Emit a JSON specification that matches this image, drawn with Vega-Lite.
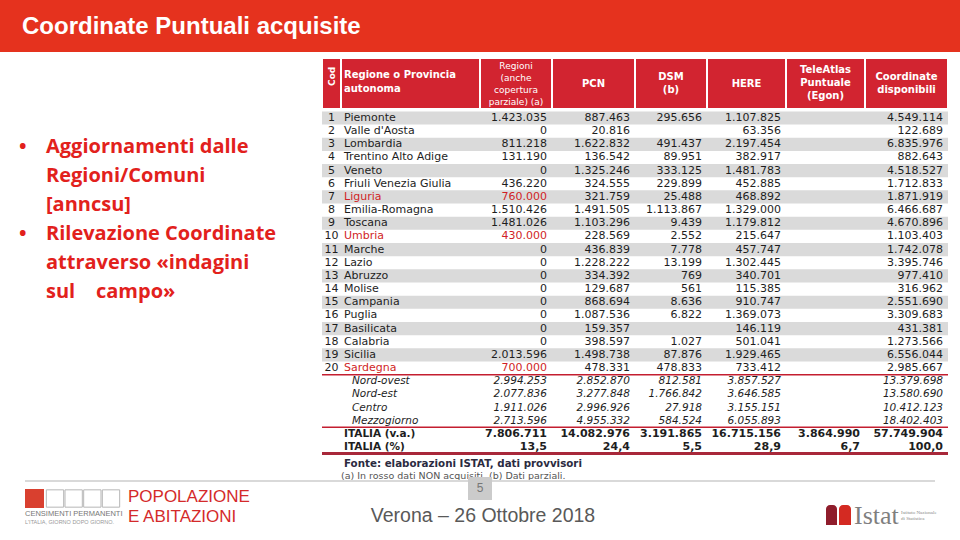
{
  "$schema": "https://vega.github.io/schema/vega-lite/v6.json",
  "width": 960,
  "height": 540,
  "padding": 0,
  "autosize": {"type": "none"},
  "background": "white",
  "config": {
    "view": {"stroke": null},
    "locale": {"number": {"decimal": ",", "thousands": ".", "grouping": [3], "currency": ["€", ""]}}
  },
  "datasets": {
    "rows": [
      {"r": 1, "kind": "region", "name": "Piemonte", "reg": 1423035, "pcn": 887463, "dsm": 295656, "here": 1107825, "coord": 4549114},
      {"r": 2, "kind": "region", "name": "Valle d'Aosta", "reg": 0, "pcn": 20816, "here": 63356, "coord": 122689},
      {"r": 3, "kind": "region", "name": "Lombardia", "reg": 811218, "pcn": 1622832, "dsm": 491437, "here": 2197454, "coord": 6835976},
      {"r": 4, "kind": "region", "name": "Trentino Alto Adige", "reg": 131190, "pcn": 136542, "dsm": 89951, "here": 382917, "coord": 882643},
      {"r": 5, "kind": "region", "name": "Veneto", "reg": 0, "pcn": 1325246, "dsm": 333125, "here": 1481783, "coord": 4518527},
      {"r": 6, "kind": "region", "name": "Friuli Venezia Giulia", "reg": 436220, "pcn": 324555, "dsm": 229899, "here": 452885, "coord": 1712833},
      {"r": 7, "kind": "region", "name": "Liguria", "nonacq": true, "reg": 760000, "pcn": 321759, "dsm": 25488, "here": 468892, "coord": 1871919},
      {"r": 8, "kind": "region", "name": "Emilia-Romagna", "reg": 1510426, "pcn": 1491505, "dsm": 1113867, "here": 1329000, "coord": 6466687},
      {"r": 9, "kind": "region", "name": "Toscana", "reg": 1481026, "pcn": 1103296, "dsm": 9439, "here": 1179812, "coord": 4670896},
      {"r": 10, "kind": "region", "name": "Umbria", "nonacq": true, "reg": 430000, "pcn": 228569, "dsm": 2552, "here": 215647, "coord": 1103403},
      {"r": 11, "kind": "region", "name": "Marche", "reg": 0, "pcn": 436839, "dsm": 7778, "here": 457747, "coord": 1742078},
      {"r": 12, "kind": "region", "name": "Lazio", "reg": 0, "pcn": 1228222, "dsm": 13199, "here": 1302445, "coord": 3395746},
      {"r": 13, "kind": "region", "name": "Abruzzo", "reg": 0, "pcn": 334392, "dsm": 769, "here": 340701, "coord": 977410},
      {"r": 14, "kind": "region", "name": "Molise", "reg": 0, "pcn": 129687, "dsm": 561, "here": 115385, "coord": 316962},
      {"r": 15, "kind": "region", "name": "Campania", "reg": 0, "pcn": 868694, "dsm": 8636, "here": 910747, "coord": 2551690},
      {"r": 16, "kind": "region", "name": "Puglia", "reg": 0, "pcn": 1087536, "dsm": 6822, "here": 1369073, "coord": 3309683},
      {"r": 17, "kind": "region", "name": "Basilicata", "reg": 0, "pcn": 159357, "here": 146119, "coord": 431381},
      {"r": 18, "kind": "region", "name": "Calabria", "reg": 0, "pcn": 398597, "dsm": 1027, "here": 501041, "coord": 1273566},
      {"r": 19, "kind": "region", "name": "Sicilia", "reg": 2013596, "pcn": 1498738, "dsm": 87876, "here": 1929465, "coord": 6556044},
      {"r": 20, "kind": "region", "name": "Sardegna", "nonacq": true, "reg": 700000, "pcn": 478331, "dsm": 478833, "here": 733412, "coord": 2985667},
      {"r": 21, "kind": "macro", "name": "Nord-ovest", "reg": 2994253, "pcn": 2852870, "dsm": 812581, "here": 3857527, "coord": 13379698},
      {"r": 22, "kind": "macro", "name": "Nord-est", "reg": 2077836, "pcn": 3277848, "dsm": 1766842, "here": 3646585, "coord": 13580690},
      {"r": 23, "kind": "macro", "name": "Centro", "reg": 1911026, "pcn": 2996926, "dsm": 27918, "here": 3155151, "coord": 10412123},
      {"r": 24, "kind": "macro", "name": "Mezzogiorno", "reg": 2713596, "pcn": 4955332, "dsm": 584524, "here": 6055893, "coord": 18402403},
      {"r": 25, "kind": "total", "name": "ITALIA (v.a.)", "reg": 7806711, "pcn": 14082976, "dsm": 3191865, "here": 16715156, "tele": 3864990, "coord": 57749904},
      {"r": 26, "kind": "pct", "name": "ITALIA (%)", "reg": 13.5, "pcn": 24.4, "dsm": 5.5, "here": 28.9, "tele": 6.7, "coord": 100.0}
    ],
    "cols": [
      {"key": "cod", "start": 0, "end": 1, "label": ["Cod"]},
      {"key": "name", "start": 1, "end": 2, "label": ["Regione o Provincia", "autonoma"]},
      {"key": "reg", "start": 2, "end": 3, "label": ["Regioni", "(anche", "copertura", "parziale) (a)"]},
      {"key": "pcn", "start": 3, "end": 4, "label": ["PCN"]},
      {"key": "dsm", "start": 4, "end": 5, "label": ["DSM", "(b)"]},
      {"key": "here", "start": 5, "end": 6, "label": ["HERE"]},
      {"key": "tele", "start": 6, "end": 7, "label": ["TeleAtlas", "Puntuale", "(Egon)"]},
      {"key": "coord", "start": 7, "end": 8, "label": ["Coordinate", "disponibili"]}
    ],
    "bullets": [
      {"line": 1, "bullet": true, "text": "Aggiornamenti dalle"},
      {"line": 2, "bullet": false, "text": "Regioni/Comuni"},
      {"line": 3, "bullet": false, "text": "[anncsu]"},
      {"line": 4, "bullet": true, "text": "Rilevazione Coordinate"},
      {"line": 5, "bullet": false, "text": "attraverso «indagini"},
      {"line": 6, "bullet": false, "text": "sul\u00a0\u00a0\u00a0\u00a0campo»"}
    ]
  },
  "resolve": {"scale": {"x": "independent", "y": "independent", "color": "independent"}},
  "layer": [
    {
      "data": {"values": [{}]},
      "mark": {"type": "rect", "color": "#e5321e"},
      "encoding": {
        "x": {"datum": 0, "type": "quantitative", "scale": {"domain": [0, 960], "range": [0, 960], "zero": false, "nice": false}, "axis": null},
        "x2": {"datum": 960},
        "y": {"datum": 0, "type": "quantitative", "scale": {"domain": [0, 540], "range": [0, 540], "zero": false, "nice": false}, "axis": null},
        "y2": {"datum": 52}
      }
    },
    {
      "data": {"values": [{"t": "Coordinate Puntuali acquisite"}]},
      "mark": {"type": "text", "align": "left", "baseline": "middle", "font": "Liberation Sans", "fontSize": 24, "fontWeight": "bold", "color": "white"},
      "encoding": {
        "x": {"datum": 22, "type": "quantitative", "scale": {"domain": [0, 960], "range": [0, 960], "zero": false, "nice": false}, "axis": null},
        "y": {"datum": 27, "type": "quantitative", "scale": {"domain": [0, 540], "range": [0, 540], "zero": false, "nice": false}, "axis": null},
        "text": {"field": "t"}
      }
    },
    {
      "data": {"name": "bullets"},
      "mark": {"type": "text", "align": "left", "baseline": "middle", "font": "Open Sans", "fontSize": 20, "fontWeight": "bold", "color": "#e2211c"},
      "encoding": {
        "x": {"datum": 46, "type": "quantitative", "scale": {"domain": [0, 960], "range": [0, 960], "zero": false, "nice": false}, "axis": null},
        "y": {"field": "line", "type": "quantitative", "scale": {"domain": [1, 6], "range": [147, 292], "zero": false, "nice": false}, "axis": null},
        "text": {"field": "text"}
      }
    },
    {
      "data": {"name": "bullets"},
      "transform": [{"filter": "datum.bullet"}],
      "mark": {"type": "text", "align": "left", "baseline": "middle", "font": "Open Sans", "fontSize": 20, "fontWeight": "bold", "color": "#e2211c", "text": "•"},
      "encoding": {
        "x": {"datum": 19, "type": "quantitative", "scale": {"domain": [0, 960], "range": [0, 960], "zero": false, "nice": false}, "axis": null},
        "y": {"field": "line", "type": "quantitative", "scale": {"domain": [1, 6], "range": [147, 292], "zero": false, "nice": false}, "axis": null}
      }
    },
    {
      "data": {"name": "cols"},
      "mark": {"type": "rect", "color": "#d22430", "stroke": "white", "strokeWidth": 2},
      "encoding": {
        "x": {"field": "start", "type": "quantitative", "scale": {"domain": [0, 1, 2, 3, 4, 5, 6, 7, 8], "range": [322, 341, 480, 552, 635, 707, 786, 865, 948], "zero": false, "nice": false}, "axis": null},
        "x2": {"field": "end"},
        "y": {"datum": 0, "type": "quantitative", "scale": {"domain": [0, 1], "range": [58, 109], "zero": false, "nice": false}, "axis": null},
        "y2": {"datum": 1}
      }
    },
    {
      "data": {"name": "cols"},
      "transform": [{"filter": "datum.start >= 3 && datum.label.length === 1"}],
      "mark": {"type": "text", "align": "center", "baseline": "middle", "font": "DejaVu Sans", "fontSize": 10, "fontWeight": "bold", "color": "white"},
      "encoding": {
        "x": {"field": "start", "type": "quantitative", "scale": {"domain": [2, 3, 4, 5, 6, 7], "range": [516, 593.5, 671, 746.5, 825.5, 906.5], "zero": false, "nice": false}, "axis": null},
        "y": {"datum": 0.5, "type": "quantitative", "scale": {"domain": [0, 1], "range": [58, 109], "zero": false, "nice": false}, "axis": null},
        "text": {"field": "label"}
      }
    },
    {
      "data": {"name": "cols"},
      "transform": [{"filter": "datum.start >= 3 && datum.label.length === 2"}],
      "mark": {"type": "text", "align": "center", "baseline": "middle", "font": "DejaVu Sans", "fontSize": 10, "fontWeight": "bold", "color": "white", "lineHeight": 13},
      "encoding": {
        "x": {"field": "start", "type": "quantitative", "scale": {"domain": [2, 3, 4, 5, 6, 7], "range": [516, 593.5, 671, 746.5, 825.5, 906.5], "zero": false, "nice": false}, "axis": null},
        "y": {"datum": 0.37, "type": "quantitative", "scale": {"domain": [0, 1], "range": [58, 109], "zero": false, "nice": false}, "axis": null},
        "text": {"field": "label"}
      }
    },
    {
      "data": {"name": "cols"},
      "transform": [{"filter": "datum.start >= 3 && datum.label.length === 3"}],
      "mark": {"type": "text", "align": "center", "baseline": "middle", "font": "DejaVu Sans", "fontSize": 10, "fontWeight": "bold", "color": "white", "lineHeight": 13},
      "encoding": {
        "x": {"field": "start", "type": "quantitative", "scale": {"domain": [2, 3, 4, 5, 6, 7], "range": [516, 593.5, 671, 746.5, 825.5, 906.5], "zero": false, "nice": false}, "axis": null},
        "y": {"datum": 0.245, "type": "quantitative", "scale": {"domain": [0, 1], "range": [58, 109], "zero": false, "nice": false}, "axis": null},
        "text": {"field": "label"}
      }
    },
    {
      "data": {"name": "cols"},
      "transform": [{"filter": "datum.key === 'reg'"}],
      "mark": {"type": "text", "align": "center", "baseline": "middle", "font": "DejaVu Sans", "fontSize": 9, "color": "white", "lineHeight": 12},
      "encoding": {
        "x": {"field": "start", "type": "quantitative", "scale": {"domain": [2, 3, 4, 5, 6, 7], "range": [516, 593.5, 671, 746.5, 825.5, 906.5], "zero": false, "nice": false}, "axis": null},
        "y": {"datum": 0.15, "type": "quantitative", "scale": {"domain": [0, 1], "range": [58, 109], "zero": false, "nice": false}, "axis": null},
        "text": {"field": "label"}
      }
    },
    {
      "data": {"name": "cols"},
      "transform": [{"filter": "datum.key === 'name'"}],
      "mark": {"type": "text", "align": "left", "baseline": "middle", "font": "DejaVu Sans", "fontSize": 10, "fontWeight": "bold", "color": "white", "lineHeight": 14, "dx": 3},
      "encoding": {
        "x": {"field": "start", "type": "quantitative", "scale": {"domain": [0, 1, 2, 3, 4, 5, 6, 7, 8], "range": [322, 341, 480, 552, 635, 707, 786, 865, 948], "zero": false, "nice": false}, "axis": null},
        "y": {"datum": 0.34, "type": "quantitative", "scale": {"domain": [0, 1], "range": [58, 109], "zero": false, "nice": false}, "axis": null},
        "text": {"field": "label"}
      }
    },
    {
      "data": {"name": "cols"},
      "transform": [{"filter": "datum.key === 'cod'"}],
      "mark": {"type": "text", "align": "center", "baseline": "middle", "font": "DejaVu Sans", "fontSize": 9, "fontWeight": "bold", "color": "white", "angle": 270},
      "encoding": {
        "x": {"datum": 0.5, "type": "quantitative", "scale": {"domain": [0, 1, 2, 3, 4, 5, 6, 7, 8], "range": [322, 341, 480, 552, 635, 707, 786, 865, 948], "zero": false, "nice": false}, "axis": null},
        "y": {"datum": 0.36, "type": "quantitative", "scale": {"domain": [0, 1], "range": [58, 109], "zero": false, "nice": false}, "axis": null},
        "text": {"field": "label"}
      }
    },
    {
      "data": {"name": "rows"},
      "transform": [{"filter": "datum.kind === 'region' && datum.r % 2 === 1"}],
      "mark": {"type": "rect", "color": "#dadada"},
      "encoding": {
        "x": {"datum": 0, "type": "quantitative", "scale": {"domain": [0, 1, 2, 3, 4, 5, 6, 7, 8], "range": [322, 341, 480, 552, 635, 707, 786, 865, 948], "zero": false, "nice": false}, "axis": null},
        "x2": {"datum": 8},
        "y": {"field": "r", "type": "ordinal", "scale": {"type": "band", "domain": [1, 2, 3, 4, 5, 6, 7, 8, 9, 10, 11, 12, 13, 14, 15, 16, 17, 18, 19, 20, 21, 22, 23, 24, 25, 26], "range": [111.4, 453.6], "paddingInner": 0, "paddingOuter": 0}, "axis": null}
      }
    },
    {
      "data": {"name": "rows"},
      "transform": [{"filter": "datum.kind === 'region'"}],
      "mark": {"type": "text", "align": "center", "baseline": "middle", "font": "DejaVu Sans", "fontSize": 11, "color": "#1e1e1e"},
      "encoding": {
        "x": {"datum": 0.5, "type": "quantitative", "scale": {"domain": [0, 1, 2, 3, 4, 5, 6, 7, 8], "range": [322, 341, 480, 552, 635, 707, 786, 865, 948], "zero": false, "nice": false}, "axis": null},
        "y": {"field": "r", "type": "ordinal", "scale": {"type": "band", "domain": [1, 2, 3, 4, 5, 6, 7, 8, 9, 10, 11, 12, 13, 14, 15, 16, 17, 18, 19, 20, 21, 22, 23, 24, 25, 26], "range": [111.4, 453.6], "paddingInner": 0, "paddingOuter": 0}, "axis": null},
        "text": {"field": "r", "type": "nominal"}
      }
    },
    {
      "data": {"name": "rows"},
      "transform": [{"filter": "datum.kind === 'region'"}],
      "mark": {"type": "text", "align": "left", "baseline": "middle", "font": "DejaVu Sans", "fontSize": 11, "dx": 3},
      "encoding": {
        "x": {"datum": 1, "type": "quantitative", "scale": {"domain": [0, 1, 2, 3, 4, 5, 6, 7, 8], "range": [322, 341, 480, 552, 635, 707, 786, 865, 948], "zero": false, "nice": false}, "axis": null},
        "y": {"field": "r", "type": "ordinal", "scale": {"type": "band", "domain": [1, 2, 3, 4, 5, 6, 7, 8, 9, 10, 11, 12, 13, 14, 15, 16, 17, 18, 19, 20, 21, 22, 23, 24, 25, 26], "range": [111.4, 453.6], "paddingInner": 0, "paddingOuter": 0}, "axis": null},
        "text": {"field": "name"},
        "color": {"condition": {"test": "datum.nonacq === true", "value": "#d11f26"}, "value": "#1e1e1e"}
      }
    },
    {
      "data": {"name": "rows"},
      "transform": [{"filter": "datum.kind === 'macro'"}],
      "mark": {"type": "text", "align": "left", "baseline": "middle", "font": "DejaVu Sans", "fontSize": 10.5, "fontStyle": "italic", "color": "#1e1e1e", "dx": 11},
      "encoding": {
        "x": {"datum": 1, "type": "quantitative", "scale": {"domain": [0, 1, 2, 3, 4, 5, 6, 7, 8], "range": [322, 341, 480, 552, 635, 707, 786, 865, 948], "zero": false, "nice": false}, "axis": null},
        "y": {"field": "r", "type": "ordinal", "scale": {"type": "band", "domain": [1, 2, 3, 4, 5, 6, 7, 8, 9, 10, 11, 12, 13, 14, 15, 16, 17, 18, 19, 20, 21, 22, 23, 24, 25, 26], "range": [111.4, 453.6], "paddingInner": 0, "paddingOuter": 0}, "axis": null},
        "text": {"field": "name"}
      }
    },
    {
      "data": {"name": "rows"},
      "transform": [{"filter": "datum.kind === 'total' || datum.kind === 'pct'"}],
      "mark": {"type": "text", "align": "left", "baseline": "middle", "font": "DejaVu Sans", "fontSize": 10.5, "fontWeight": "bold", "color": "#1e1e1e", "dx": 3},
      "encoding": {
        "x": {"datum": 1, "type": "quantitative", "scale": {"domain": [0, 1, 2, 3, 4, 5, 6, 7, 8], "range": [322, 341, 480, 552, 635, 707, 786, 865, 948], "zero": false, "nice": false}, "axis": null},
        "y": {"field": "r", "type": "ordinal", "scale": {"type": "band", "domain": [1, 2, 3, 4, 5, 6, 7, 8, 9, 10, 11, 12, 13, 14, 15, 16, 17, 18, 19, 20, 21, 22, 23, 24, 25, 26], "range": [111.4, 453.6], "paddingInner": 0, "paddingOuter": 0}, "axis": null},
        "text": {"field": "name"}
      }
    },
    {
      "data": {"name": "rows"},
      "transform": [
        {"filter": "datum.kind === 'region'"},
        {"fold": ["reg", "pcn", "dsm", "here", "tele", "coord"], "as": ["key", "value"]},
        {"filter": "isValid(datum.value)"},
        {"lookup": "key", "from": {"data": {"name": "cols"}, "key": "key", "fields": ["end"]}}
      ],
      "mark": {"type": "text", "align": "right", "baseline": "middle", "font": "DejaVu Sans", "fontSize": 11, "dx": -5},
      "encoding": {
        "x": {"field": "end", "type": "quantitative", "scale": {"domain": [0, 1, 2, 3, 4, 5, 6, 7, 8], "range": [322, 341, 480, 552, 635, 707, 786, 865, 948], "zero": false, "nice": false}, "axis": null},
        "y": {"field": "r", "type": "ordinal", "scale": {"type": "band", "domain": [1, 2, 3, 4, 5, 6, 7, 8, 9, 10, 11, 12, 13, 14, 15, 16, 17, 18, 19, 20, 21, 22, 23, 24, 25, 26], "range": [111.4, 453.6], "paddingInner": 0, "paddingOuter": 0}, "axis": null},
        "text": {"field": "value", "type": "quantitative", "format": ",.0f"},
        "color": {"condition": {"test": "datum.nonacq === true && datum.key === 'reg'", "value": "#d11f26"}, "value": "#1e1e1e"}
      }
    },
    {
      "data": {"name": "rows"},
      "transform": [
        {"filter": "datum.kind === 'macro'"},
        {"fold": ["reg", "pcn", "dsm", "here", "tele", "coord"], "as": ["key", "value"]},
        {"filter": "isValid(datum.value)"},
        {"lookup": "key", "from": {"data": {"name": "cols"}, "key": "key", "fields": ["end"]}}
      ],
      "mark": {"type": "text", "align": "right", "baseline": "middle", "font": "DejaVu Sans", "fontSize": 10.5, "fontStyle": "italic", "color": "#1e1e1e", "dx": -5},
      "encoding": {
        "x": {"field": "end", "type": "quantitative", "scale": {"domain": [0, 1, 2, 3, 4, 5, 6, 7, 8], "range": [322, 341, 480, 552, 635, 707, 786, 865, 948], "zero": false, "nice": false}, "axis": null},
        "y": {"field": "r", "type": "ordinal", "scale": {"type": "band", "domain": [1, 2, 3, 4, 5, 6, 7, 8, 9, 10, 11, 12, 13, 14, 15, 16, 17, 18, 19, 20, 21, 22, 23, 24, 25, 26], "range": [111.4, 453.6], "paddingInner": 0, "paddingOuter": 0}, "axis": null},
        "text": {"field": "value", "type": "quantitative", "format": ",.0f"}
      }
    },
    {
      "data": {"name": "rows"},
      "transform": [
        {"filter": "datum.kind === 'total'"},
        {"fold": ["reg", "pcn", "dsm", "here", "tele", "coord"], "as": ["key", "value"]},
        {"filter": "isValid(datum.value)"},
        {"lookup": "key", "from": {"data": {"name": "cols"}, "key": "key", "fields": ["end"]}}
      ],
      "mark": {"type": "text", "align": "right", "baseline": "middle", "font": "DejaVu Sans", "fontSize": 11, "fontWeight": "bold", "color": "#1e1e1e", "dx": -5},
      "encoding": {
        "x": {"field": "end", "type": "quantitative", "scale": {"domain": [0, 1, 2, 3, 4, 5, 6, 7, 8], "range": [322, 341, 480, 552, 635, 707, 786, 865, 948], "zero": false, "nice": false}, "axis": null},
        "y": {"field": "r", "type": "ordinal", "scale": {"type": "band", "domain": [1, 2, 3, 4, 5, 6, 7, 8, 9, 10, 11, 12, 13, 14, 15, 16, 17, 18, 19, 20, 21, 22, 23, 24, 25, 26], "range": [111.4, 453.6], "paddingInner": 0, "paddingOuter": 0}, "axis": null},
        "text": {"field": "value", "type": "quantitative", "format": ",.0f"}
      }
    },
    {
      "data": {"name": "rows"},
      "transform": [
        {"filter": "datum.kind === 'pct'"},
        {"fold": ["reg", "pcn", "dsm", "here", "tele", "coord"], "as": ["key", "value"]},
        {"filter": "isValid(datum.value)"},
        {"lookup": "key", "from": {"data": {"name": "cols"}, "key": "key", "fields": ["end"]}}
      ],
      "mark": {"type": "text", "align": "right", "baseline": "middle", "font": "DejaVu Sans", "fontSize": 11, "fontWeight": "bold", "color": "#1e1e1e", "dx": -5},
      "encoding": {
        "x": {"field": "end", "type": "quantitative", "scale": {"domain": [0, 1, 2, 3, 4, 5, 6, 7, 8], "range": [322, 341, 480, 552, 635, 707, 786, 865, 948], "zero": false, "nice": false}, "axis": null},
        "y": {"field": "r", "type": "ordinal", "scale": {"type": "band", "domain": [1, 2, 3, 4, 5, 6, 7, 8, 9, 10, 11, 12, 13, 14, 15, 16, 17, 18, 19, 20, 21, 22, 23, 24, 25, 26], "range": [111.4, 453.6], "paddingInner": 0, "paddingOuter": 0}, "axis": null},
        "text": {"field": "value", "type": "quantitative", "format": ",.1f"}
      }
    },
    {
      "data": {"values": [{"r": 21}, {"r": 25}]},
      "mark": {"type": "rule", "color": "#c41e30", "strokeWidth": 1.5},
      "encoding": {
        "x": {"datum": 0, "type": "quantitative", "scale": {"domain": [0, 1, 2, 3, 4, 5, 6, 7, 8], "range": [322, 341, 480, 552, 635, 707, 786, 865, 948], "zero": false, "nice": false}, "axis": null},
        "x2": {"datum": 8},
        "y": {"field": "r", "type": "ordinal", "bandPosition": 0, "scale": {"type": "band", "domain": [1, 2, 3, 4, 5, 6, 7, 8, 9, 10, 11, 12, 13, 14, 15, 16, 17, 18, 19, 20, 21, 22, 23, 24, 25, 26], "range": [111.4, 453.6], "paddingInner": 0, "paddingOuter": 0}, "axis": null}
      }
    },
    {
      "data": {"values": [{"r": 26}]},
      "mark": {"type": "rule", "color": "#a8283a", "strokeWidth": 3},
      "encoding": {
        "x": {"datum": 0, "type": "quantitative", "scale": {"domain": [0, 1, 2, 3, 4, 5, 6, 7, 8], "range": [322, 341, 480, 552, 635, 707, 786, 865, 948], "zero": false, "nice": false}, "axis": null},
        "x2": {"datum": 8},
        "y": {"field": "r", "type": "ordinal", "bandPosition": 1, "scale": {"type": "band", "domain": [1, 2, 3, 4, 5, 6, 7, 8, 9, 10, 11, 12, 13, 14, 15, 16, 17, 18, 19, 20, 21, 22, 23, 24, 25, 26], "range": [111.4, 453.6], "paddingInner": 0, "paddingOuter": 0}, "axis": null}
      }
    },
    {
      "data": {"values": [{"t": "Fonte: elaborazioni ISTAT, dati provvisori"}]},
      "mark": {"type": "text", "align": "left", "baseline": "middle", "font": "DejaVu Sans", "fontSize": 10.3, "fontWeight": "bold", "color": "#2b2b3f"},
      "encoding": {
        "x": {"datum": 344, "type": "quantitative", "scale": {"domain": [0, 960], "range": [0, 960], "zero": false, "nice": false}, "axis": null},
        "y": {"datum": 464, "type": "quantitative", "scale": {"domain": [0, 540], "range": [0, 540], "zero": false, "nice": false}, "axis": null},
        "text": {"field": "t"}
      }
    },
    {
      "data": {"values": [{"t": "(a) In rosso dati NON acquisiti. (b) Dati parziali."}]},
      "mark": {"type": "text", "align": "left", "baseline": "middle", "font": "DejaVu Sans", "fontSize": 9.5, "color": "#555555"},
      "encoding": {
        "x": {"datum": 341, "type": "quantitative", "scale": {"domain": [0, 960], "range": [0, 960], "zero": false, "nice": false}, "axis": null},
        "y": {"datum": 476, "type": "quantitative", "scale": {"domain": [0, 540], "range": [0, 540], "zero": false, "nice": false}, "axis": null},
        "text": {"field": "t"}
      }
    },
    {
      "data": {"values": [{}]},
      "mark": {"type": "rule", "color": "#d9d9d9", "strokeWidth": 2},
      "encoding": {
        "x": {"datum": 25, "type": "quantitative", "scale": {"domain": [0, 960], "range": [0, 960], "zero": false, "nice": false}, "axis": null},
        "x2": {"datum": 935},
        "y": {"datum": 481, "type": "quantitative", "scale": {"domain": [0, 540], "range": [0, 540], "zero": false, "nice": false}, "axis": null}
      }
    },
    {
      "data": {"values": [{}]},
      "mark": {"type": "rect", "color": "#cbcbcb"},
      "encoding": {
        "x": {"datum": 468, "type": "quantitative", "scale": {"domain": [0, 960], "range": [0, 960], "zero": false, "nice": false}, "axis": null},
        "x2": {"datum": 492},
        "y": {"datum": 477, "type": "quantitative", "scale": {"domain": [0, 540], "range": [0, 540], "zero": false, "nice": false}, "axis": null},
        "y2": {"datum": 500}
      }
    },
    {
      "data": {"values": [{"t": "5"}]},
      "mark": {"type": "text", "align": "center", "baseline": "middle", "font": "'Liberation Sans Narrow', 'Liberation Sans', sans-serif", "fontSize": 12, "color": "#777777"},
      "encoding": {
        "x": {"datum": 480, "type": "quantitative", "scale": {"domain": [0, 960], "range": [0, 960], "zero": false, "nice": false}, "axis": null},
        "y": {"datum": 488, "type": "quantitative", "scale": {"domain": [0, 540], "range": [0, 540], "zero": false, "nice": false}, "axis": null},
        "text": {"field": "t"}
      }
    },
    {
      "data": {"values": [{"t": "Verona – 26 Ottobre 2018"}]},
      "mark": {"type": "text", "align": "center", "baseline": "middle", "font": "'Liberation Sans Narrow', 'Liberation Sans', sans-serif", "fontSize": 19.5, "color": "#595959"},
      "encoding": {
        "x": {"datum": 483, "type": "quantitative", "scale": {"domain": [0, 960], "range": [0, 960], "zero": false, "nice": false}, "axis": null},
        "y": {"datum": 516, "type": "quantitative", "scale": {"domain": [0, 540], "range": [0, 540], "zero": false, "nice": false}, "axis": null},
        "text": {"field": "t"}
      }
    },
    {
      "data": {"values": [{"t": ["POPOLAZIONE", "E ABITAZIONI"]}]},
      "mark": {"type": "text", "align": "left", "baseline": "middle", "font": "'Liberation Sans Narrow', 'Liberation Sans', sans-serif", "fontSize": 17, "color": "#d42a2a", "lineHeight": 20},
      "encoding": {
        "x": {"datum": 128, "type": "quantitative", "scale": {"domain": [0, 960], "range": [0, 960], "zero": false, "nice": false}, "axis": null},
        "y": {"datum": 497, "type": "quantitative", "scale": {"domain": [0, 540], "range": [0, 540], "zero": false, "nice": false}, "axis": null},
        "text": {"field": "t"}
      }
    },
    {
      "data": {"values": [{}]},
      "mark": {"type": "rect", "color": "#d9402f"},
      "encoding": {
        "x": {"datum": 25, "type": "quantitative", "scale": {"domain": [0, 960], "range": [0, 960], "zero": false, "nice": false}, "axis": null},
        "x2": {"datum": 44},
        "y": {"datum": 489, "type": "quantitative", "scale": {"domain": [0, 540], "range": [0, 540], "zero": false, "nice": false}, "axis": null},
        "y2": {"datum": 508}
      }
    },
    {
      "data": {"values": [{"i": 1}, {"i": 2}, {"i": 3}, {"i": 4}]},
      "mark": {"type": "square", "filled": false, "stroke": "#9a9a9a", "strokeWidth": 1, "size": 300},
      "encoding": {
        "x": {"field": "i", "type": "quantitative", "scale": {"domain": [1, 4], "range": [55, 111], "zero": false, "nice": false}, "axis": null},
        "y": {"datum": 498.5, "type": "quantitative", "scale": {"domain": [0, 540], "range": [0, 540], "zero": false, "nice": false}, "axis": null}
      }
    },
    {
      "data": {"values": [{"t": "CENSIMENTI PERMANENTI"}]},
      "mark": {"type": "text", "align": "left", "baseline": "middle", "font": "'Liberation Sans Narrow', 'Liberation Sans', sans-serif", "fontSize": 7.5, "color": "#777777"},
      "encoding": {
        "x": {"datum": 25, "type": "quantitative", "scale": {"domain": [0, 960], "range": [0, 960], "zero": false, "nice": false}, "axis": null},
        "y": {"datum": 514, "type": "quantitative", "scale": {"domain": [0, 540], "range": [0, 540], "zero": false, "nice": false}, "axis": null},
        "text": {"field": "t"}
      }
    },
    {
      "data": {"values": [{"t": "L'ITALIA, GIORNO DOPO GIORNO."}]},
      "mark": {"type": "text", "align": "left", "baseline": "middle", "font": "'Liberation Sans Narrow', 'Liberation Sans', sans-serif", "fontSize": 5.5, "color": "#999999"},
      "encoding": {
        "x": {"datum": 25, "type": "quantitative", "scale": {"domain": [0, 960], "range": [0, 960], "zero": false, "nice": false}, "axis": null},
        "y": {"datum": 522, "type": "quantitative", "scale": {"domain": [0, 540], "range": [0, 540], "zero": false, "nice": false}, "axis": null},
        "text": {"field": "t"}
      }
    },
    {
      "data": {"values": [{"a": 826, "b": 837, "c": "#8f1d2c"}, {"a": 839, "b": 851, "c": "#d42a22"}]},
      "mark": {"type": "rect", "cornerRadiusTopLeft": 4, "cornerRadiusTopRight": 4},
      "encoding": {
        "x": {"field": "a", "type": "quantitative", "scale": {"domain": [0, 960], "range": [0, 960], "zero": false, "nice": false}, "axis": null},
        "x2": {"field": "b"},
        "y": {"datum": 505, "type": "quantitative", "scale": {"domain": [0, 540], "range": [0, 540], "zero": false, "nice": false}, "axis": null},
        "y2": {"datum": 525},
        "color": {"field": "c", "type": "nominal", "scale": null, "legend": null}
      }
    },
    {
      "data": {"values": [{"t": "Istat"}]},
      "mark": {"type": "text", "align": "left", "baseline": "middle", "font": "Liberation Serif", "fontSize": 26, "color": "#7f7f7f"},
      "encoding": {
        "x": {"datum": 854, "type": "quantitative", "scale": {"domain": [0, 960], "range": [0, 960], "zero": false, "nice": false}, "axis": null},
        "y": {"datum": 516, "type": "quantitative", "scale": {"domain": [0, 540], "range": [0, 540], "zero": false, "nice": false}, "axis": null},
        "text": {"field": "t"}
      }
    },
    {
      "data": {"values": [{"t": ["Istituto Nazionale", "di Statistica"]}]},
      "mark": {"type": "text", "align": "left", "baseline": "middle", "font": "Liberation Serif", "fontSize": 5, "color": "#888888", "lineHeight": 6},
      "encoding": {
        "x": {"datum": 901, "type": "quantitative", "scale": {"domain": [0, 960], "range": [0, 960], "zero": false, "nice": false}, "axis": null},
        "y": {"datum": 512, "type": "quantitative", "scale": {"domain": [0, 540], "range": [0, 540], "zero": false, "nice": false}, "axis": null},
        "text": {"field": "t"}
      }
    }
  ]
}
